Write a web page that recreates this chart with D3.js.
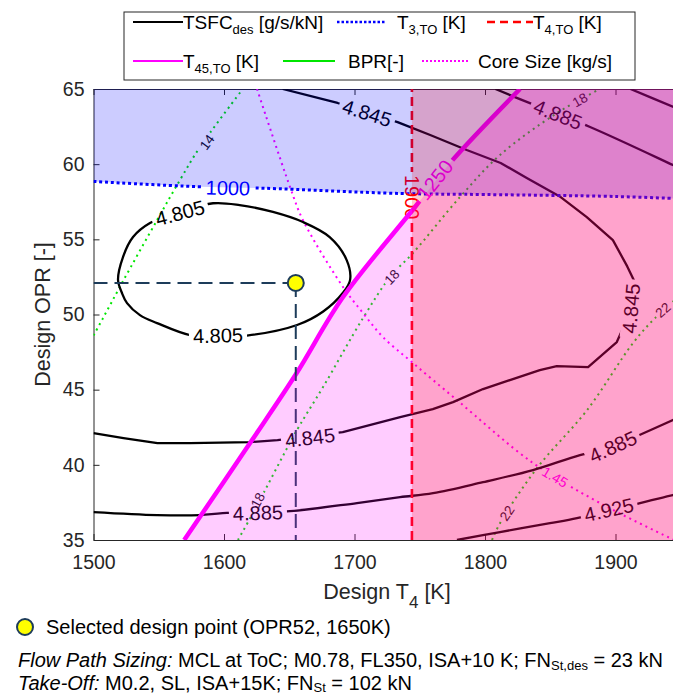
<!DOCTYPE html>
<html>
<head>
<meta charset="utf-8">
<script src="https://cdn.jsdelivr.net/npm/d3@7"></script>
<style>
  body { margin: 0; background: #fff; }
  svg { display: block; font-family: Arial, "Liberation Sans", Helvetica, sans-serif; }
</style>
</head>
<body>
<svg id="chart" width="673" height="695"></svg>
<script>
// ---- data: [T4 (K), OPR (-)] ----
var xTicks = [1500, 1600, 1700, 1800, 1900];
var yTicks = [35, 40, 45, 50, 55, 60, 65];

// TSFC_des contours
var tsfc4805 = [[1591.6,57.4],[1612,57.28],[1637.5,56.82],[1660.5,56.15],[1681,55.15],[1694,53.62],
  [1696.6,52.29],[1691,51.43],[1676,50.2],[1656,49.3],[1617.6,48.6],[1595,48.55],[1574,48.63],
  [1548.7,49.43],[1535.6,49.96],[1525.7,50.76],[1521.8,51.43],[1518.8,52.29],[1522.6,53.82],
  [1530.3,55.15],[1543.3,56.08],[1566,56.8]];
var tsfc4845 = [[1645,65],[1687,64.07],[1733,62.8],[1758,61.94],[1786,60.94],[1812,60.08],[1832,59.08],
  [1858,57.81],[1878,56.48],[1898,54.95],[1909,53.2],[1914,52.29],[1912,50.3],[1901,48.17],
  [1879,46.5],[1855,46.57],[1842,46.3],[1798.5,45.04],[1775.5,44.17],[1760,43.71],[1735,43.18],
  [1691,42.18],[1641,41.65],[1620,41.51],[1574,41.45],[1549,41.45],[1523,41.78],[1500,42.11]];
var tsfc4885Top = [[1808,65],[1832,64.14],[1880.5,62.47],[1944,59.94],[1950,59.7]];
var tsfc4885Low = [[1500,36.86],[1548.7,36.66],[1581.6,36.66],[1599,36.79],[1650.6,36.92],[1701.9,37.46],
  [1734.9,37.85],[1760.2,38.12],[1798.5,38.85],[1836.8,39.65],[1872.8,40.65],[1898,41.18],
  [1918.4,41.98],[1944,42.98],[1950,43.2]];
var tsfc4925Top = [[1911.5,65],[1944.4,63.8],[1950,63.58]];
var tsfc4925Low = [[1778.5,35],[1811.5,35.53],[1849.8,36.12],[1870.5,36.46],[1895,36.99],[1918.8,37.46],
  [1944,37.99],[1950,38.1]];
var tsfcLabels = [[1566.3,56.75,"4.805"],[1595.4,48.6,"4.805"],[1709.6,63.4,"4.845"],[1665.9,41.8,"4.845"],
  [1912,50.4,"4.845"],[1855.9,63.3,"4.885"],[1626,36.8,"4.885"],[1898,41.2,"4.885"],[1895,37.0,"4.925"]];

// take-off temperature limits
var t3Line = [[1500,58.85],[1580,58.5],[1630,58.4],[1735,58.05],[1800,57.98],[1900,57.85],[1950,57.7]];
var t3Labels = [[1603,58.41,"1000"]];
var t4Limit = 1744;
var t4Labels = [[1744,57.8,"1900"]];
var t45Line = [[1569.5,35],[1621.5,41.65],[1655.2,46.04],[1691.2,51.16],[1746.4,57.15],[1773.2,60.08],[1826.8,65]];
var t45Labels = [[1761.7,58.95,"1250"]];

// bypass ratio contours
var bpr14 = [[1500,48.6],[1507.3,49.76],[1521.8,52.09],[1548.7,56.28],[1566.3,58.95],[1581.6,61.14],[1613.8,64.93]];
var bpr18 = [[1610.7,35],[1622.2,36.79],[1655.9,42.31],[1675.9,45.17],[1706.5,49.76],[1727.2,52.49],
  [1744.8,54.09],[1780.8,57.81],[1811.5,60.61],[1855.2,63.4],[1888.1,65]];
var bpr22 = [[1805.4,35],[1811.5,36.12],[1839.8,39.78],[1878.2,43.64],[1913.4,48.1],[1930.3,49.76],[1950,51.3]];
var bprLabels = [[1587,61.47,"14"],[1728.7,52.49,"18"],[1626,37.65,"18"],[1872.8,64.27,"18"],
  [1816.9,36.79,"22"],[1936.4,50.3,"22"]];

// core size contour
var core145 = [[1625.3,65],[1650.6,58.48],[1660.5,56.28],[1691.2,51.83],[1706.5,50.1],[1721.8,48.5],
  [1744.8,46.77],[1778.5,44.31],[1836.8,40.12],[1888.1,37.46],[1941.8,35.13],[1950,34.8]];
var coreLabels = [[1853.6,39.18,"1.45"]];

// selected design point
var designPoint = [1655, 52.1];

// ---- layout ----
var W = 673, H = 695;
var axisColor = "#262626";
var x = d3.scaleLinear().domain([1500, 1950]).range([93.5, 680.75]);
var y = d3.scaleLinear().domain([35, 65]).range([540, 89]);

var svg = d3.select("#chart");
var defs = svg.append("defs");

defs.append("clipPath").attr("id", "plotClip").append("rect")
    .attr("x", x(1500)).attr("y", y(65))
    .attr("width", x(1950) - x(1500)).attr("height", y(35) - y(65));

// axes (drawn first, the constraint patches sit on top of everything in the plot)
function styleAxis(g) {
  g.attr("font-size", 19.5).attr("font-family", null);
  g.selectAll("path, line").attr("stroke", axisColor);
  g.selectAll("text").attr("fill", axisColor);
}
svg.append("g").attr("transform", "translate(0," + y(35) + ")")
    .call(d3.axisBottom(x).tickValues(xTicks).tickSizeInner(-6).tickSizeOuter(0).tickPadding(15).tickFormat(d3.format("d")))
    .call(styleAxis);
svg.append("g").attr("transform", "translate(0," + y(65) + ")")
    .call(d3.axisTop(x).tickValues(xTicks).tickSizeInner(-6).tickSizeOuter(0).tickFormat(""))
    .call(styleAxis);
svg.append("g").attr("transform", "translate(" + x(1500) + ",0)")
    .call(d3.axisLeft(y).tickValues(yTicks).tickSizeInner(-6).tickSizeOuter(0).tickPadding(9))
    .call(styleAxis);

var plot = svg.append("g").attr("clip-path", "url(#plotClip)");

var smoothLine = d3.line()
    .x(function(d) { return x(d[0]); })
    .y(function(d) { return y(d[1]); })
    .curve(d3.curveCatmullRom.alpha(0.5));
var straightLine = d3.line()
    .x(function(d) { return x(d[0]); })
    .y(function(d) { return y(d[1]); });
var closedLine = d3.line()
    .x(function(d) { return x(d[0]); })
    .y(function(d) { return y(d[1]); })
    .curve(d3.curveCatmullRomClosed.alpha(0.5));

// angle of the polyline segment nearest to a point, in screen space
function nearestAngle(px, py, polys) {
  var best = Infinity, ang = 0;
  polys.forEach(function(p) {
    var pts = p.pts.map(function(d) { return [x(d[0]), y(d[1])]; });
    if (p.closed) pts.push(pts[0]);
    for (var i = 0; i < pts.length - 1; i++) {
      var ax = pts[i][0], ay = pts[i][1], bx = pts[i + 1][0], by = pts[i + 1][1];
      var dx = bx - ax, dy = by - ay, L = dx * dx + dy * dy;
      var t = L ? Math.max(0, Math.min(1, ((px - ax) * dx + (py - ay) * dy) / L)) : 0;
      var qx = ax + t * dx - px, qy = ay + t * dy - py, dist = qx * qx + qy * qy;
      if (dist < best) { best = dist; ang = Math.atan2(dy, dx) * 180 / Math.PI; }
    }
  });
  if (ang <= -90) ang += 180;
  if (ang > 90) ang -= 180;
  return ang;
}

// a contour set: lines broken where their labels sit (like clabel)
function contourSet(id, polys, labels, style) {
  var lineG = plot.append("g").attr("mask", "url(#" + id + ")");
  var labelG = plot.append("g");
  var mask = defs.append("mask").attr("id", id).attr("maskUnits", "userSpaceOnUse")
      .attr("x", 0).attr("y", 0).attr("width", W).attr("height", H);
  mask.append("rect").attr("width", W).attr("height", H).attr("fill", "#fff");

  labels.forEach(function(l) {
    var px = x(l[0]), py = y(l[1]);
    var a = nearestAngle(px, py, polys);
    var t = labelG.append("text")
        .attr("transform", "translate(" + px + "," + py + ") rotate(" + a + ")")
        .attr("text-anchor", "middle").attr("dy", "0.35em")
        .attr("font-size", style.fontSize).attr("fill", style.textColor)
        .text(l[2]);
    var w = t.node().getComputedTextLength() + style.gap;
    mask.append("rect")
        .attr("transform", "translate(" + px + "," + py + ") rotate(" + a + ")")
        .attr("x", -w / 2).attr("y", -style.fontSize * 0.45)
        .attr("width", w).attr("height", style.fontSize * 0.9)
        .attr("fill", "#000");
  });

  polys.forEach(function(p) {
    var gen = p.closed ? closedLine : (p.straight ? straightLine : smoothLine);
    lineG.append("path")
        .attr("d", gen(p.pts))
        .attr("fill", "none")
        .attr("stroke", style.color)
        .attr("stroke-width", style.width)
        .attr("stroke-linejoin", "round")
        .attr("stroke-dasharray", style.dash || null);
  });
}

contourSet("mBpr", [{pts: bpr14}, {pts: bpr18}, {pts: bpr22}], bprLabels,
    {color: "#00e600", width: 2, dash: "2 4", fontSize: 13.5, textColor: "#111", gap: 4});
contourSet("mCore", [{pts: core145}], coreLabels,
    {color: "#ff00ff", width: 2, dash: "2 4", fontSize: 14, textColor: "#ff00ff", gap: 4});
contourSet("mTsfc", [{pts: tsfc4805, closed: true}, {pts: tsfc4845, straight: true}, {pts: tsfc4885Top},
    {pts: tsfc4885Low}, {pts: tsfc4925Top}, {pts: tsfc4925Low}], tsfcLabels,
    {color: "#000", width: 2.3, fontSize: 20, textColor: "#000", gap: 8});
contourSet("mT3", [{pts: t3Line}], t3Labels,
    {color: "#0000ff", width: 3, dash: "3 2.8", fontSize: 20, textColor: "#0000ff", gap: 8});
contourSet("mT4", [{pts: [[t4Limit, 35], [t4Limit, 65]], straight: true}], t4Labels,
    {color: "#ff0000", width: 2.6, dash: "9 5", fontSize: 20, textColor: "#ff0000", gap: 6});
contourSet("mT45", [{pts: t45Line}], t45Labels,
    {color: "#ff00ff", width: 4.5, fontSize: 20, textColor: "#ff00ff", gap: 8});

// selected design point with its guide lines
var dpColor = "#1d3c5a";
plot.append("line")
    .attr("x1", x(1500)).attr("x2", x(designPoint[0]))
    .attr("y1", y(designPoint[1])).attr("y2", y(designPoint[1]))
    .attr("stroke", dpColor).attr("stroke-width", 2).attr("stroke-dasharray", "14 7");
plot.append("line")
    .attr("x1", x(designPoint[0])).attr("x2", x(designPoint[0]))
    .attr("y1", y(designPoint[1])).attr("y2", y(35))
    .attr("stroke", dpColor).attr("stroke-width", 2).attr("stroke-dasharray", "14 7");
plot.append("circle")
    .attr("cx", x(designPoint[0])).attr("cy", y(designPoint[1])).attr("r", 8)
    .attr("fill", "#ffff00").attr("stroke", dpColor).attr("stroke-width", 2);

// constraint patches, semi-transparent, over everything in the axes
var area = d3.line().x(function(d) { return x(d[0]); }).y(function(d) { return y(d[1]); });
plot.append("path")
    .attr("d", area(t3Line.concat([[1950, 65], [1500, 65]])) + "Z")
    .attr("fill", "#0000ff").attr("fill-opacity", 0.2);
plot.append("path")
    .attr("d", area(t45Line.concat([[1950, 65], [1950, 35]])) + "Z")
    .attr("fill", "#ff00ff").attr("fill-opacity", 0.2);
plot.append("rect")
    .attr("x", x(t4Limit)).attr("y", y(65))
    .attr("width", x(1950) - x(t4Limit)).attr("height", y(35) - y(65))
    .attr("fill", "#ff0000").attr("fill-opacity", 0.2);

// axis titles
svg.append("text")
    .attr("transform", "translate(42," + ((y(35) + y(65)) / 2) + ") rotate(-90)")
    .attr("text-anchor", "middle").attr("dy", "0.35em")
    .attr("font-size", 21.5).attr("fill", axisColor)
    .text("Design OPR [-]");
var xt = svg.append("text").attr("x", 387).attr("y", 599)
    .attr("text-anchor", "middle").attr("font-size", 21.5).attr("fill", axisColor);
xt.append("tspan").text("Design T");
xt.append("tspan").attr("font-size", 17).attr("dy", 9).text("4");
xt.append("tspan").attr("dy", -9).text(" [K]");

// legend
var legend = svg.append("g");
legend.append("rect").attr("x", 124).attr("y", 12).attr("width", 511).attr("height", 68)
    .attr("fill", "#fff").attr("stroke", axisColor).attr("stroke-width", 1);
var legendItems = [
  {x1: 133, x2: 183, tx: 183, row: 0, color: "#000", width: 2, dash: null, main: "TSFC", sub: "des", tail: " [g/s/kN]"},
  {x1: 337, x2: 385, tx: 397, row: 0, color: "#0000ff", width: 2.5, dash: "2.5 2", main: "T", sub: "3,TO", tail: " [K]"},
  {x1: 487, x2: 533, tx: 533, row: 0, color: "#ff0000", width: 2.5, dash: "8 5", main: "T", sub: "4,TO", tail: " [K]"},
  {x1: 133, x2: 183, tx: 183, row: 1, color: "#ff00ff", width: 2, dash: null, main: "T", sub: "45,TO", tail: " [K]"},
  {x1: 283, x2: 335, tx: 348, row: 1, color: "#00e600", width: 2, dash: null, main: "BPR[-]", sub: "", tail: ""},
  {x1: 422, x2: 470, tx: 478, row: 1, color: "#ff00ff", width: 2, dash: "2 2", main: "Core Size [kg/s]", sub: "", tail: ""}
];
var rowY = [22, 61];
legendItems.forEach(function(it) {
  var ly = rowY[it.row];
  legend.append("line").attr("x1", it.x1).attr("x2", it.x2).attr("y1", ly).attr("y2", ly)
      .attr("stroke", it.color).attr("stroke-width", it.width).attr("stroke-dasharray", it.dash);
  var t = legend.append("text").attr("x", it.tx).attr("y", ly + 7)
      .attr("font-size", 19).attr("fill", "#000");
  t.append("tspan").text(it.main);
  if (it.sub) {
    t.append("tspan").attr("font-size", 13).attr("dy", 5).text(it.sub);
    t.append("tspan").attr("dy", -5).text(it.tail);
  }
});

// notes under the chart
svg.append("circle").attr("cx", 25).attr("cy", 627).attr("r", 8)
    .attr("fill", "#ffff00").attr("stroke", dpColor).attr("stroke-width", 2);
svg.append("text").attr("x", 46).attr("y", 634).attr("font-size", 20).attr("fill", "#000")
    .text("Selected design point (OPR52, 1650K)");

var n1 = svg.append("text").attr("x", 18).attr("y", 667).attr("font-size", 20).attr("fill", "#000");
n1.append("tspan").attr("font-style", "italic").text("Flow Path Sizing:");
n1.append("tspan").text(" MCL at ToC; M0.78, FL350, ISA+10 K; FN");
n1.append("tspan").attr("font-size", 13).attr("dy", 3).text("St,des");
n1.append("tspan").attr("dy", -3).text(" = 23 kN");

var n2 = svg.append("text").attr("x", 18).attr("y", 690).attr("font-size", 20).attr("fill", "#000");
n2.append("tspan").attr("font-style", "italic").text("Take-Off:");
n2.append("tspan").text(" M0.2, SL, ISA+15K; FN");
n2.append("tspan").attr("font-size", 13).attr("dy", 2).text("St");
n2.append("tspan").attr("dy", -2).text(" = 102 kN");
</script>
</body>
</html>
